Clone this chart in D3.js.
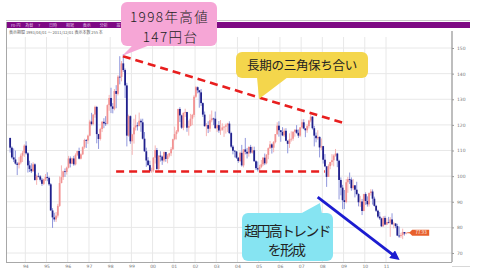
<!DOCTYPE html>
<html>
<head>
<meta charset="utf-8">
<script src="https://cdn.jsdelivr.net/npm/d3@7"></script>
<style>
  html, body { margin: 0; padding: 0; background: #fff; }
  svg { display: block; font-family: "Noto Sans CJK JP", "Noto Sans", sans-serif; }
</style>
</head>
<body>
<svg id="chart" width="478" height="274"></svg>
<script>
// 月足 USD/JPY 1993/04 ～ 2011/12
const startYear = 1993, startMonth = 3; // 0-based month (April)
const firstOpen = 114.9;

const closes = [
  111.1,107.3,106.5,104.9,104.4,105.3,108.0,109.1,111.9,
  108.9,104.2,102.8,101.9,104.6,98.5,100.1,99.9,98.6,97.0,98.8,99.7,
  99.3,96.8,86.6,83.9,83.1,84.6,88.4,97.3,99.6,101.9,101.6,103.3,
  106.9,104.9,106.9,104.6,108.3,109.8,106.8,108.5,111.3,114.1,113.9,115.8,
  121.3,120.3,124.0,127.0,116.4,114.5,118.4,121.2,120.6,120.4,127.7,130.5,
  127.2,126.3,133.2,132.1,138.8,138.7,144.0,141.4,135.4,115.8,123.4,113.6,
  116.3,119.0,119.8,119.6,121.6,121.0,114.6,109.7,106.1,104.3,102.0,102.2,
  107.2,110.2,102.8,108.0,107.6,106.1,109.4,106.7,108.0,108.9,110.5,114.4,
  116.4,117.4,126.2,123.7,118.9,124.7,125.0,118.9,119.6,122.4,123.9,131.0,
  134.7,133.5,132.7,128.5,124.0,119.5,119.9,118.5,121.8,122.5,122.4,118.7,
  119.9,117.8,118.1,119.0,119.3,119.8,120.5,116.8,111.5,109.9,109.6,107.2,
  105.9,109.1,104.2,110.4,109.5,108.8,111.4,109.2,110.1,105.8,103.1,102.6,
  103.6,104.6,107.2,105.0,108.3,110.9,112.4,111.1,113.3,116.4,119.7,117.9,
  117.2,115.9,117.7,113.8,112.6,114.4,114.6,117.3,118.1,116.9,115.8,119.0,
  121.0,118.6,117.9,119.5,121.7,123.2,118.7,115.8,114.8,115.3,111.2,111.7,
  106.4,103.8,99.7,103.9,105.5,106.2,108.0,108.8,106.0,98.5,95.5,90.6,
  89.9,97.6,98.8,98.6,95.3,96.4,94.7,93.0,89.8,90.1,86.4,93.0,
  90.3,89.0,93.4,94.0,91.2,88.4,86.5,84.2,83.5,80.4,83.7,81.1,
  82.1,81.8,83.1,81.2,81.5,80.5,76.8,76.6,77.0,78.2,77.6,77.9
];

const highs = [
  115.0,111.6,110.8,110.0,105.5,107.4,108.8,109.8,112.4,
  113.6,109.4,106.0,105.0,105.4,105.0,100.6,101.3,100.4,99.3,99.0,100.8,
  101.5,99.8,97.3,87.5,85.7,86.0,89.2,99.9,104.2,102.1,103.0,103.7,
  107.9,107.7,107.2,107.9,108.9,109.9,111.1,108.9,111.6,114.6,114.5,116.2,
  122.0,124.7,124.2,127.5,127.4,116.5,118.9,121.5,122.6,123.4,128.0,131.7,
  134.5,128.5,134.0,135.5,139.4,146.8,144.9,147.6,142.0,136.4,124.0,123.7,
  116.5,122.4,124.0,121.0,124.8,122.4,122.4,117.2,111.1,107.4,106.0,103.3,
  107.4,112.0,111.0,108.1,109.7,108.0,109.6,109.5,108.6,109.1,111.3,114.6,
  119.3,118.0,126.3,126.9,124.0,124.8,126.3,125.1,121.7,124.3,124.3,131.6,
  135.2,135.0,133.6,134.0,128.8,125.2,120.7,121.4,124.1,125.6,122.8,125.2,
  120.2,121.5,121.9,120.6,119.5,120.5,120.8,121.4,117.3,112.1,110.2,109.8,
  107.5,109.6,112.2,110.5,114.9,111.0,111.6,112.2,111.5,111.5,106.2,105.7,
  104.4,106.3,107.4,108.8,108.6,111.2,113.7,112.8,113.7,116.4,121.0,121.4,
  118.0,119.1,118.6,118.7,114.0,116.7,117.5,117.5,118.3,119.9,118.2,119.2,
  122.2,122.2,118.7,120.2,122.0,124.1,123.4,119.6,117.0,117.9,115.5,114.7,
  111.8,108.6,104.0,104.6,105.6,108.6,108.5,110.6,109.1,106.4,99.5,96.6,
  94.6,98.9,99.7,101.4,99.5,98.9,96.5,97.8,93.3,92.3,91.1,93.1,
  93.7,92.1,93.6,94.9,94.8,92.0,88.8,86.9,86.0,83.8,84.4,84.5,
  83.6,84.1,84.0,85.5,82.2,81.7,81.4,80.3,77.9,79.5,78.2,78.1
];

const lows = [
  109.2,106.8,105.5,104.5,100.4,103.0,104.6,105.5,107.5,
  108.4,101.4,101.6,101.2,101.7,98.2,96.6,99.5,97.9,96.2,96.5,98.1,
  98.0,96.2,86.5,79.8,82.2,82.1,83.8,88.0,97.2,98.5,99.7,100.6,
  103.0,103.4,104.7,104.0,104.2,107.8,106.5,106.5,108.2,110.7,111.0,112.6,
  115.5,119.8,119.8,122.8,112.8,110.6,113.9,117.2,118.7,119.6,120.2,125.5,
  124.6,124.5,125.7,126.5,131.5,135.8,137.0,140.6,130.5,111.6,115.4,112.6,
  108.3,112.7,117.8,117.8,119.4,117.3,114.3,109.5,103.6,104.0,101.6,101.3,
  101.5,104.9,102.3,101.6,105.7,104.4,105.4,105.6,105.0,107.3,107.8,110.2,
  114.0,114.3,117.0,121.1,118.4,117.9,123.1,117.3,115.8,119.4,119.9,123.0,
  130.5,132.3,126.7,127.4,123.1,119.3,115.6,116.8,117.3,121.0,119.9,118.5,
  117.2,116.9,116.1,117.7,115.3,116.6,117.2,116.4,110.9,108.5,107.3,106.7,
  105.2,105.5,103.7,103.4,108.5,106.9,107.6,108.7,108.8,105.6,102.4,101.8,
  101.7,103.1,103.9,104.3,104.6,106.6,110.6,108.8,109.3,112.8,116.0,115.4,
  113.4,115.6,115.3,113.6,108.9,111.0,113.5,113.8,115.4,116.5,114.9,115.3,
  118.5,118.3,115.2,116.9,118.6,121.0,118.2,111.6,113.2,114.2,107.3,110.1,
  104.9,103.5,95.8,99.7,102.7,104.2,103.8,107.6,103.5,90.9,92.5,87.1,
  87.1,89.4,93.5,96.9,94.3,94.5,91.7,92.5,88.2,88.0,84.8,86.3,
  88.8,88.1,88.1,92.4,88.9,88.1,86.0,83.6,82.9,80.2,80.3,80.9,
  80.9,81.5,76.3,81.0,79.6,79.7,76.6,75.9,75.9,75.4,76.8,77.3
];

// 軸ラベル
const yearTicks = [1994,1995,1996,1997,1998,1999,2000,2001,2002,2003,2004,2005,2006,2007,2008,2009,2010,2011];
const priceTicks = [70, 80, 90, 100, 110, 120, 130, 140, 150];
const lastPriceLabel = "77.93";

// 注釈（年, 価格）
const resistLine = [[1998.6, 146.8], [2008.97, 120.8]];
const supportLine = [[1998.28, 101.8], [2008.12, 101.8]];
const trendArrow = [[2007.78, 91.8], [2011.5, 68.2]];

const colors = {
  up: "#f29393",
  upWick: "#f6b4b4",
  down: "#20208c",
  downWick: "#9097dc",
  grid: "#e8e8e8",
  axis: "#a8a8a8",
  dash: "#e81e1e",
  arrow: "#1c1cd0"
};

// ローソク足データ
const candles = closes.map((c, i) => {
  const m = startMonth + i;
  return {
    date: new Date(startYear + Math.floor(m / 12), m % 12, 15),
    open: i === 0 ? firstOpen : closes[i - 1],
    high: highs[i],
    low: lows[i],
    close: c
  };
});

const svg = d3.select("#chart");
const plot = { left: 7, right: 452, top: 37, bottom: 262 };

const x = d3.scaleTime()
  .domain([new Date(1994, 0, 1), new Date(2011, 0, 1)])
  .range([25.3, 386]);
const y = d3.scaleLinear()
  .domain([70, 150])
  .range([253, 48]);
const yr = v => new Date(Math.floor(v), 0, 1).getTime() + (v % 1) * 365.25 * 864e5;

// ヘッダー
svg.append("line")
  .attr("x1", 6).attr("x2", 470).attr("y1", 20.5).attr("y2", 20.5)
  .attr("stroke", "#c8c8c8");
svg.append("rect")
  .attr("x", 6).attr("y", 22).attr("width", 464).attr("height", 6)
  .attr("fill", "#7e0a84");
svg.append("text")
  .attr("x", 11).attr("y", 26.8)
  .style("font-size", "4px").style("fill", "#e7c8ea")
  .text("Fx-円　 為替　 ?　　 日時　　 相場　　 表示　　 分析　　 設定");
svg.append("text")
  .attr("x", 9).attr("y", 33.5)
  .style("font-size", "4px").style("fill", "#666")
  .text("表示期間 1993/04/01 ～ 2011/12/01 表示本数 255 本");

// グリッド
svg.append("g")
  .selectAll("line")
  .data(yearTicks)
  .enter()
  .append("line")
  .attr("x1", d => x(new Date(d, 0, 1))).attr("x2", d => x(new Date(d, 0, 1)))
  .attr("y1", plot.top).attr("y2", plot.bottom)
  .attr("stroke", colors.grid);

svg.append("g")
  .selectAll("line")
  .data(priceTicks)
  .enter()
  .append("line")
  .attr("x1", plot.left).attr("x2", plot.right)
  .attr("y1", d => y(d)).attr("y2", d => y(d))
  .attr("stroke", colors.grid);

// 枠と軸
svg.append("line")
  .attr("x1", 6.5).attr("x2", 6.5).attr("y1", 22).attr("y2", plot.bottom)
  .attr("stroke", colors.axis);

const xAxis = svg.append("g")
  .attr("transform", `translate(0,${plot.bottom})`)
  .call(d3.axisBottom(x)
    .tickValues(yearTicks.map(d => new Date(d, 0, 1)))
    .tickFormat(d3.timeFormat("%y"))
    .tickSize(0)
    .tickPadding(3));
xAxis.select(".domain").attr("d", `M6,0.5H${plot.right}`).attr("stroke", colors.axis).attr("stroke-width", 1.2);
xAxis.selectAll("text").style("font-size", "4.5px").style("fill", "#777").style("font-family", "DejaVu Sans");

const yAxis = svg.append("g")
  .attr("transform", `translate(${plot.right},0)`)
  .call(d3.axisRight(y)
    .tickValues(priceTicks)
    .tickSize(2)
    .tickPadding(3));
yAxis.select(".domain").attr("d", `M0,${plot.top - 6}V${plot.bottom}`).attr("stroke", colors.axis).attr("stroke-width", 1.5);
yAxis.selectAll(".tick line").attr("stroke", "#999");
yAxis.selectAll("text").style("font-size", "4.5px").style("fill", "#777").style("font-family", "DejaVu Sans");

svg.append("line")
  .attr("x1", plot.right).attr("x2", 470).attr("y1", 266.5).attr("y2", 266.5)
  .attr("stroke", "#d8d8d8");

// ローソク足
const cg = svg.append("g");
cg.selectAll("line")
  .data(candles)
  .enter()
  .append("line")
  .attr("x1", d => x(d.date)).attr("x2", d => x(d.date))
  .attr("y1", d => y(Math.max(d.high, d.open, d.close)))
  .attr("y2", d => y(Math.min(d.low, d.open, d.close)))
  .attr("stroke", d => d.close >= d.open ? colors.upWick : colors.downWick)
  .attr("stroke-width", 1);

cg.selectAll("rect")
  .data(candles)
  .enter()
  .append("rect")
  .attr("x", d => x(d.date) - 0.9)
  .attr("width", 1.8)
  .attr("y", d => y(Math.max(d.open, d.close)))
  .attr("height", d => Math.max(0.8, Math.abs(y(d.open) - y(d.close))))
  .attr("fill", d => d.close >= d.open ? colors.up : colors.down);

// 最終値タグ
const last = candles[candles.length - 1];
svg.append("line")
  .attr("x1", x(last.date) + 1).attr("x2", x(last.date) + 4)
  .attr("y1", y(last.close)).attr("y2", y(last.close))
  .attr("stroke", "#e8602c");
svg.append("path")
  .attr("d", `M${x(last.date) + 3},${y(last.close)} l3,-3 h17 v6 h-17 z`)
  .attr("fill", "#e8602c");
svg.append("text")
  .attr("x", x(last.date) + 15).attr("y", y(last.close) + 1.6)
  .attr("text-anchor", "middle")
  .style("font-size", "4.5px").style("fill", "#fff")
  .text(lastPriceLabel);

// 三角保ち合いのライン
const lineGen = d3.line().x(d => x(yr(d[0]))).y(d => y(d[1]));
[resistLine, supportLine].forEach(pts => {
  svg.append("path")
    .attr("d", lineGen(pts))
    .attr("fill", "none")
    .attr("stroke", colors.dash)
    .attr("stroke-width", 2.6)
    .attr("stroke-dasharray", "8,5");
});

// 円高トレンドの矢印
svg.append("defs").append("marker")
  .attr("id", "arrowhead")
  .attr("viewBox", "0 0 10 10")
  .attr("refX", 6).attr("refY", 5)
  .attr("markerWidth", 3.4).attr("markerHeight", 3.4)
  .attr("orient", "auto")
  .append("path")
  .attr("d", "M0,0L10,5L0,10z")
  .attr("fill", colors.arrow);
svg.append("path")
  .attr("d", lineGen(trendArrow))
  .attr("stroke", colors.arrow)
  .attr("stroke-width", 2.8)
  .attr("marker-end", "url(#arrowhead)");

// 吹き出し
function callout(box, tail, fill, lines, fontSize, spacing, weight) {
  const g = svg.append("g");
  g.append("rect")
    .attr("x", box.x).attr("y", box.y)
    .attr("width", box.w).attr("height", box.h)
    .attr("rx", 6)
    .attr("fill", fill);
  g.append("path")
    .attr("d", `M${tail[0][0]},${tail[0][1]}L${tail[1][0]},${tail[1][1]}L${tail[2][0]},${tail[2][1]}Z`)
    .attr("fill", fill);
  lines.forEach(l => {
    g.append("text")
      .attr("x", l.x).attr("y", l.y)
      .attr("text-anchor", "middle")
      .style("font-size", fontSize + "px")
      .style("font-weight", weight)
      .style("letter-spacing", spacing + "px")
      .style("fill", "#222")
      .text(l.t);
  });
}

callout({ x: 121, y: 2, w: 96, h: 44 },
  [[133, 45], [122, 56], [150, 45]],
  "#f6a6d6",
  [{ t: "1998年高値", x: 169.5, y: 21.5 }, { t: "147円台", x: 170.5, y: 41.5 }],
  13.5, 1.4, 300);

callout({ x: 236, y: 52, w: 132, h: 26 },
  [[257, 77], [259, 99], [288, 77]],
  "#f4d64c",
  [{ t: "長期の三角保ち合い", x: 302, y: 70 }],
  12.5, -0.3, 400);

callout({ x: 242, y: 213, w: 91, h: 48 },
  [[300, 214], [320, 203], [322, 214]],
  "#86e4f2",
  [{ t: "超円高トレンド", x: 287, y: 236 }, { t: "を形成", x: 286, y: 255 }],
  14, -1.8, 400);
</script>
</body>
</html>
